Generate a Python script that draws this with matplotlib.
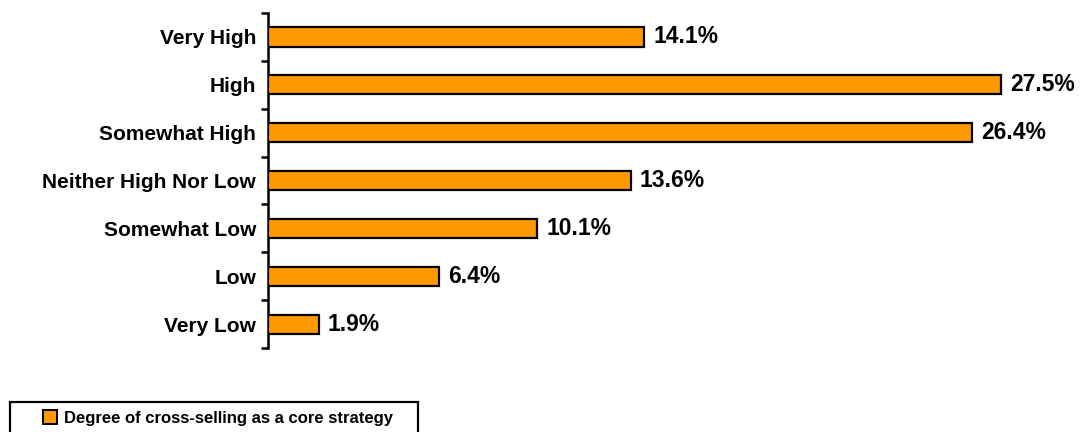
import matplotlib
matplotlib.use("Agg")
import matplotlib.pyplot as plt
from matplotlib.patches import Patch, Rectangle

plt.rcParams['font.family'] = ['Liberation Sans', 'DejaVu Sans']
plt.rcParams['font.weight'] = 'bold'

categories = ["Very High", "High", "Somewhat High", "Neither High Nor Low",
              "Somewhat Low", "Low", "Very Low"]
values = [14.1, 27.5, 26.4, 13.6, 10.1, 6.4, 1.9]
series_name = "Degree of cross-selling as a core strategy"

W, H = 1086, 432
fig = plt.figure(figsize=(W / 100, H / 100), dpi=100)
ax = fig.add_axes([268 / W, 1 - 348 / H, 800 / W, 335 / H])

bar_color = "#FF9900"
pos = list(range(len(categories)))
ax.barh(pos, values, height=0.40, color=bar_color, edgecolor="black",
        linewidth=1.6, zorder=3)

for p, v in zip(pos, values):
    ax.annotate(f"{v:.1f}%", xy=(v, p), xytext=(6.5, 0),
                textcoords="offset points", va="center", ha="left",
                fontsize=16.5, fontweight="bold", color="black")

ax.set_xlim(0, 30)
ax.set_ylim(len(categories) - 0.5, -0.5)

# boundary ticks on the category axis, labels centred between them
ax.set_yticks([i - 0.5 for i in range(len(categories) + 1)])
ax.set_yticklabels([])
ax.set_yticks(pos, minor=True)
ax.set_yticklabels(categories, minor=True, fontsize=15, fontweight="bold")
ax.tick_params(axis="y", which="major", direction="out", length=5,
               width=1.8, color="black")
ax.tick_params(axis="y", which="minor", length=0, pad=8.6)

ax.xaxis.set_visible(False)
for s in ["top", "right", "bottom"]:
    ax.spines[s].set_visible(False)
ax.spines["left"].set_linewidth(1.8)

# legend box
fig.patches.append(Rectangle((10 / W, 1 - 440 / H), 408 / W, 38 / H,
                             transform=fig.transFigure, fill=False,
                             edgecolor="black", linewidth=1.6))
handle = Patch(facecolor=bar_color, edgecolor="black", linewidth=1.4)
fig.legend([handle], [series_name], loc="center",
           bbox_to_anchor=(218 / W, 1 - 418 / H), frameon=False,
           handlelength=0.84, handleheight=0.84, handletextpad=0.45,
           borderpad=0, borderaxespad=0,
           prop={"size": 12, "weight": "bold"})

fig.savefig("out.png", dpi=100)
